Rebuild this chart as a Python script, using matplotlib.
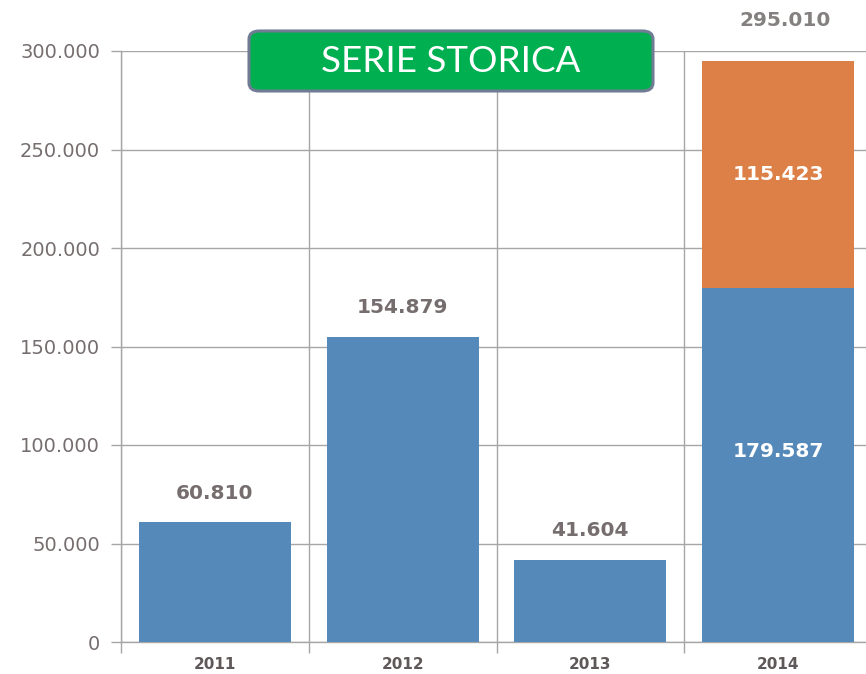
import matplotlib
matplotlib.use("Agg")
import matplotlib.pyplot as plt
from matplotlib.patches import FancyBboxPatch
from matplotlib.ticker import FuncFormatter

years = ["2011", "2012", "2013", "2014"]
base_values = [60810, 154879, 41604, 179587]
extra_values = [0, 0, 0, 115423]
totals = [b + e for b, e in zip(base_values, extra_values)]
yticks = [0, 50000, 100000, 150000, 200000, 250000, 300000]
title = "SERIE STORICA"

blue = "#5589B9"
orange = "#DD8047"
grid_c = "#A6A6A6"
txt_c = "#766E6E"

plt.rcParams['font.family'] = ['DejaVu Sans']


def fmt(v):
    return f"{int(v):,}".replace(",", ".")


fig = plt.figure(figsize=(8.66, 6.74), dpi=100)
ax = fig.add_axes([121/866, 32/674, 751/866, 591/674])
x = list(range(len(years)))
w = 0.81
ax.bar(x, base_values, width=w, color=blue, zorder=3)
ax.bar(x, extra_values, width=w, bottom=base_values, color=orange, zorder=3)

ax.set_xlim(-0.5, len(years) - 0.5)
ax.set_ylim(0, 300000)
ax.set_yticks(yticks)
ax.yaxis.set_major_formatter(FuncFormatter(lambda v, p: "0" if v == 0 else fmt(v)))
ax.set_xticks(x)
ax.set_xticklabels(years, fontweight='bold', fontsize=11, color="#5F5858")
ax.set_xticks([i - 0.5 for i in range(len(years) + 1)], minor=True)
ax.tick_params(axis='x', which='major', length=0, pad=11)
ax.tick_params(axis='x', which='minor', length=8, color=grid_c, width=1)
ax.tick_params(axis='y', length=7, color=grid_c, width=1, labelsize=14, labelcolor=txt_c, pad=8)
ax.grid(axis='y', which='major', color=grid_c, linewidth=1, zorder=0)
ax.grid(axis='x', which='minor', color=grid_c, linewidth=1, zorder=0)
for s in ['top', 'right']:
    ax.spines[s].set_visible(False)
for s in ['left', 'bottom']:
    ax.spines[s].set_color(grid_c)
    ax.spines[s].set_linewidth(1)

lab_kw = dict(ha='center', va='center', fontsize=14.5, fontweight='bold')
for i in x:
    if extra_values[i] == 0:
        ax.annotate(fmt(base_values[i]), (i, totals[i]),
                    xytext=(0, 21), textcoords='offset points', color=txt_c,
                    annotation_clip=False, **lab_kw)
    else:
        ax.annotate(fmt(base_values[i]), (i, base_values[i] / 2),
                    xytext=(0, 10), textcoords='offset points', color='white',
                    zorder=4, **lab_kw)
        ax.annotate(fmt(extra_values[i]), (i, base_values[i] + extra_values[i] / 2),
                    xytext=(0, 0), textcoords='offset points', color='white',
                    zorder=4, **lab_kw)
        ax.annotate(fmt(totals[i]), (i, totals[i]),
                    xytext=(5, 29), textcoords='offset points', color="#858080",
                    annotation_clip=False, **lab_kw)

# title box
bx0, by0, bx1, by1 = 249/866, 1 - 91/674, 653/866, 1 - 31/674
box = FancyBboxPatch((bx0, by0), bx1 - bx0, by1 - by0,
                     boxstyle="round,pad=0,rounding_size=0.012",
                     transform=fig.transFigure, facecolor="#00B050",
                     edgecolor="#6F7C93", linewidth=2.2, zorder=10)
fig.patches.append(box)
fig.text((bx0 + bx1) / 2, (by0 + by1) / 2, title, ha='center', va='center',
         color='white', fontsize=26.5, zorder=11, family=['Lato', 'DejaVu Sans'])

fig.savefig("out.png", dpi=100)
